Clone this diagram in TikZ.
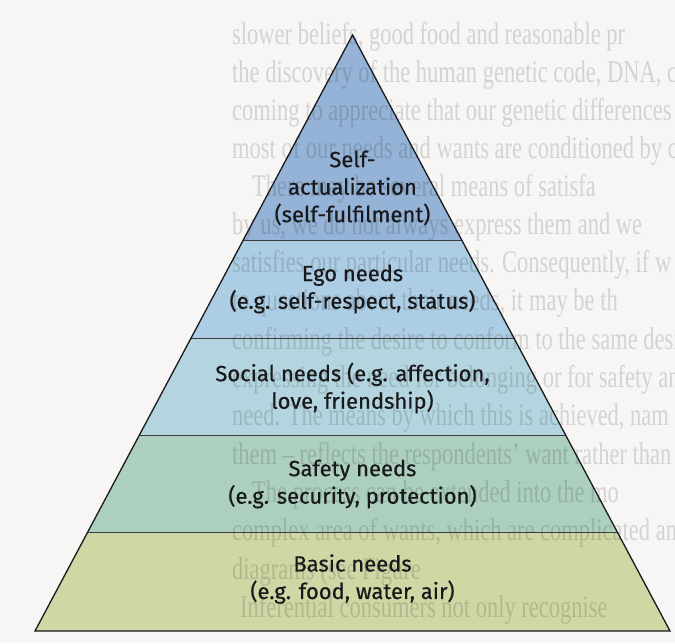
\documentclass[tikz,border=0pt]{standalone}
\usepackage{fontspec}
\setmainfont{Liberation Serif}
\newfontfamily\labelfont{Fira Sans}[FakeBold=0.5]
\usetikzlibrary{calc}

\definecolor{paper}{RGB}{247,246,245}
\definecolor{tierA}{RGB}{148,179,215}
\definecolor{tierB}{RGB}{172,205,227}
\definecolor{tierC}{RGB}{180,213,223}
\definecolor{tierD}{RGB}{173,208,190}
\definecolor{tierE}{RGB}{206,216,165}
\definecolor{ink}{RGB}{25,25,28}

\tikzset{
  tierline/.style={draw=ink!85, line width=1pt},
  outline/.style={draw=ink, line width=1.3pt, line join=miter},
  lab/.style={font=\labelfont\fontsize{22}{27.5}\selectfont, text=ink, align=center, inner sep=0pt},
  pagetext/.style={anchor=base west, inner sep=0pt, text=black, opacity=0.14,
    font=\fontsize{22.5}{22.5}\selectfont},
}

\begin{document}
\begin{tikzpicture}[x=1pt,y=1pt]
  \useasboundingbox (0,0) rectangle (675,-643);
  \fill[paper] (0,0) rectangle (675,-643);

  % pyramid corners
  \coordinate (apex) at (352.5,-35);
  \coordinate (bl) at (35,-631);
  \coordinate (br) at (670,-631);
  % tier boundaries on the two slanted sides
  \foreach \n/\t in {1/0.3456, 2/0.5084, 3/0.6728, 4/0.8339}{
    \coordinate (l\n) at ($(apex)!\t!(bl)$);
    \coordinate (r\n) at ($(apex)!\t!(br)$);
  }

  % tier fills, top to bottom
  \fill[tierA] (apex) -- (r1) -- (l1) -- cycle;
  \fill[tierB] (l1) -- (r1) -- (r2) -- (l2) -- cycle;
  \fill[tierC] (l2) -- (r2) -- (r3) -- (l3) -- cycle;
  \fill[tierD] (l3) -- (r3) -- (r4) -- (l4) -- cycle;
  \fill[tierE] (l4) -- (r4) -- (br) -- (bl) -- cycle;

  % the printed page underneath
  \begin{scope}
    \clip (0,0) rectangle (675,-643);
    \foreach \y/\x/\s in {
      44/232/{slower beliefs, good food and reasonable pr},
      82/232/{the discovery of the human genetic code, DNA, ca},
      120/232/{coming to appreciate that our genetic differences},
      158/232/{most of our needs and wants are conditioned by c},
      196/252/{There may be several means of satisfa},
      234/232/{by us, we do not always express them and we},
      272/232/{satisfies our particular needs. Consequently, if w},
      310/232/{to questions about their needs, it may be th},
      349/232/{confirming the desire to conform to the same desi},
      387/232/{expressing the need for belonging or for safety an},
      425/232/{need. The means by which this is achieved, nam},
      464/232/{them -- reflects the respondents' want rather than},
      502/252/{The process can be extended into the mo},
      540/232/{complex area of wants, which are complicated and c},
      579/232/{diagrams (see Figure},
      617/240/{Inferential consumers not only recognise}}{
      \node[pagetext] (pg\y) at (\x,-\y) {\scalebox{1}[1.4]{\s}};
    }
  \end{scope}

  % tier dividers and outline
  \draw[tierline] (l1) -- (r1);
  \draw[tierline] (l2) -- (r2);
  \draw[tierline] (l3) -- (r3);
  \draw[tierline] (l4) -- (r4);
  \draw[outline] (apex) -- (br) -- (bl) -- cycle;

  % tier labels
  \node[lab] (self)   at (352.5,-188) {Self-\\actualization\\(self-fulfilment)};
  \node[lab] (ego)    at (352.5,-289) {Ego needs\\(e.g. self-respect, status)};
  \node[lab] (social) at (352.5,-388) {Social needs (e.g. affection,\\love, friendship)};
  \node[lab] (safety) at (352.5,-484) {Safety needs\\(e.g. security, protection)};
  \node[lab] (basic)  at (352.5,-579) {Basic needs\\(e.g. food, water, air)};
\end{tikzpicture}
\end{document}
